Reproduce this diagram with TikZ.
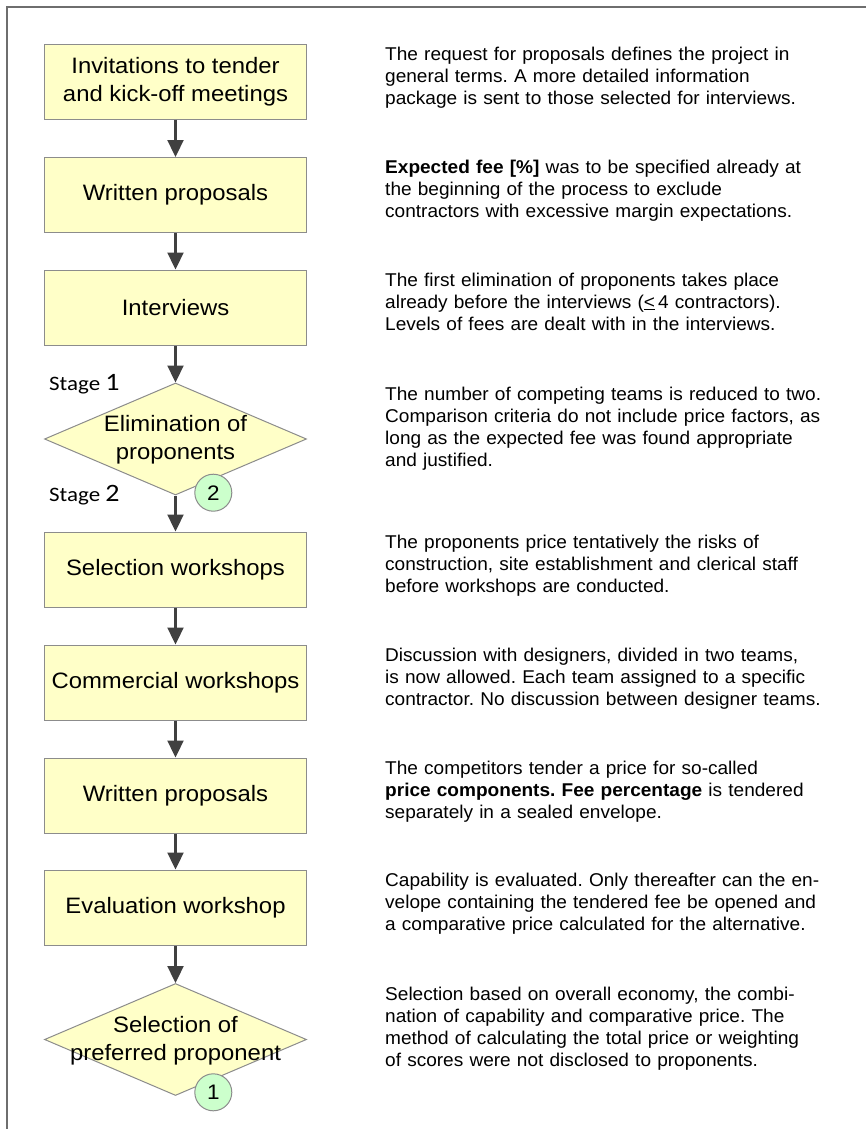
\documentclass[tikz,border=0pt]{standalone}
\usepackage{fontspec}
\setmainfont{Liberation Sans}
\newfontfamily\boxfont{Liberation Sans}[FakeStretch=1.07]
\newfontfamily\notefont{Liberation Sans}[FakeStretch=1.03]
\newfontfamily\stagefont{Carlito}[FakeStretch=1.12]
\usetikzlibrary{shapes.geometric,arrows.meta}
\definecolor{boxfill}{RGB}{255,255,200}
\definecolor{boxline}{RGB}{140,140,140}
\definecolor{badgefill}{RGB}{204,255,204}
\definecolor{arrowcol}{RGB}{64,64,64}
\definecolor{framecol}{RGB}{110,110,110}
\frenchspacing
\begin{document}
\begin{tikzpicture}[x=1pt,y=-1pt,
  stepbox/.style={draw=boxline, line width=1pt, fill=boxfill,
    minimum width=262pt, minimum height=75pt, inner sep=0pt, align=center,
    font=\boxfont\fontsize{22.3}{28}\selectfont},
  decision/.style={diamond, draw=boxline, line width=1pt, fill=boxfill,
    minimum width=262pt, minimum height=112pt, inner sep=0pt},
  decisiontext/.style={align=center, inner sep=0pt,
    font=\boxfont\fontsize{22.3}{28}\selectfont},
  badge/.style={circle, draw=boxline, line width=1pt, fill=badgefill,
    minimum size=37pt, inner sep=0pt, font=\boxfont\fontsize{21}{21}\selectfont},
  note/.style={anchor=base west, inner sep=0pt, text width=475pt, align=left,
    font=\notefont\fontsize{18.5}{22}\selectfont},
  stagelabel/.style={anchor=base west, inner sep=0pt,
    font=\stagefont\fontsize{20.5}{24}\selectfont},
  flow/.style={draw=arrowcol, line width=2.3pt, -{Triangle[length=17pt,width=16pt]}},
  framestroke/.style={draw=framecol, line width=1.5pt}
]
\useasboundingbox (0,0) rectangle (866,1129);
\fill[white] (0,0) rectangle (866,1129);

% outer frame (top and left edges)
\draw[framestroke] (7,1129) -- (7,7) -- (866,7);

% process steps
\node[stepbox] (b1) at (175.5,81.8) {Invitations to tender\\and kick-off meetings};
\node[stepbox] (b2) at (175.5,195) {Written proposals};
\node[stepbox] (b3) at (175.5,307.5) {Interviews};
\node[decision] (d1) at (175.5,439) {};
\node[decisiontext] (d1t) at (175.5,440) {Elimination of\\proponents};
\node[stepbox] (b5) at (175.5,569.5) {Selection workshops};
\node[stepbox] (b6) at (175.5,682.5) {Commercial workshops};
\node[stepbox] (b7) at (175.5,795.5) {Written proposals};
\node[stepbox] (b8) at (175.5,907.5) {Evaluation workshop};
\node[decision] (d2) at (175.5,1039.5) {};
\node[decisiontext] (d2t) at (175.5,1041) {Selection of\\preferred proponent};

% numbered badges on the decisions
\node[badge] (c2) at (213.3,492.7) {2};
\node[badge] (c1) at (213.3,1092.3) {1};

% stage labels
\node[stagelabel] (s1) at (49,390) {Stage {\fontsize{25}{25}\selectfont 1}};
\node[stagelabel] (s2) at (49,501.7) {Stage {\fontsize{25}{25}\selectfont 2}};

% connectors
\draw[flow] (b1) -- (b2);
\draw[flow] (b2) -- (b3);
\draw[flow] (b3) -- (d1);
\draw[flow] (d1) -- (b5);
\draw[flow] (b5) -- (b6);
\draw[flow] (b6) -- (b7);
\draw[flow] (b7) -- (b8);
\draw[flow] (b8) -- (d2);

% explanatory notes
\node[note] (n1) at (385,60.3) {The request for proposals defines the project in\\general terms. A more detailed information\\package is sent to those selected for interviews.};
\node[note] (n2) at (385,173.5) {\textbf{Expected fee [\%]} was to be specified already at\\the beginning of the process to exclude\\contractors with excessive margin expectations.};
\node[note] (n3) at (385,286) {The first elimination of proponents takes place\\already before the interviews (\underline{<}\,4 contractors).\\Levels of fees are dealt with in the interviews.};
\node[note] (n4) at (385,400) {The number of competing teams is reduced to two.\\Comparison criteria do not include price factors, as\\long as the expected fee was found appropriate\\and justified.};
\node[note] (n5) at (385,548) {The proponents price tentatively the risks of\\construction, site establishment and clerical staff\\before workshops are conducted.};
\node[note] (n6) at (385,661) {Discussion with designers, divided in two teams,\\is now allowed. Each team assigned to a specific\\contractor. No discussion between designer teams.};
\node[note] (n7) at (385,774) {The competitors tender a price for so-called\\\textbf{price components. Fee percentage} is tendered\\separately in a sealed envelope.};
\node[note] (n8) at (385,886) {Capability is evaluated. Only thereafter can the en-\\velope containing the tendered fee be opened and\\a comparative price calculated for the alternative.};
\node[note] (n9) at (385,1000.5) {Selection based on overall economy, the combi-\\nation of capability and comparative price. The\\method of calculating the total price or weighting\\of scores were not disclosed to proponents.};
\end{tikzpicture}
\end{document}
